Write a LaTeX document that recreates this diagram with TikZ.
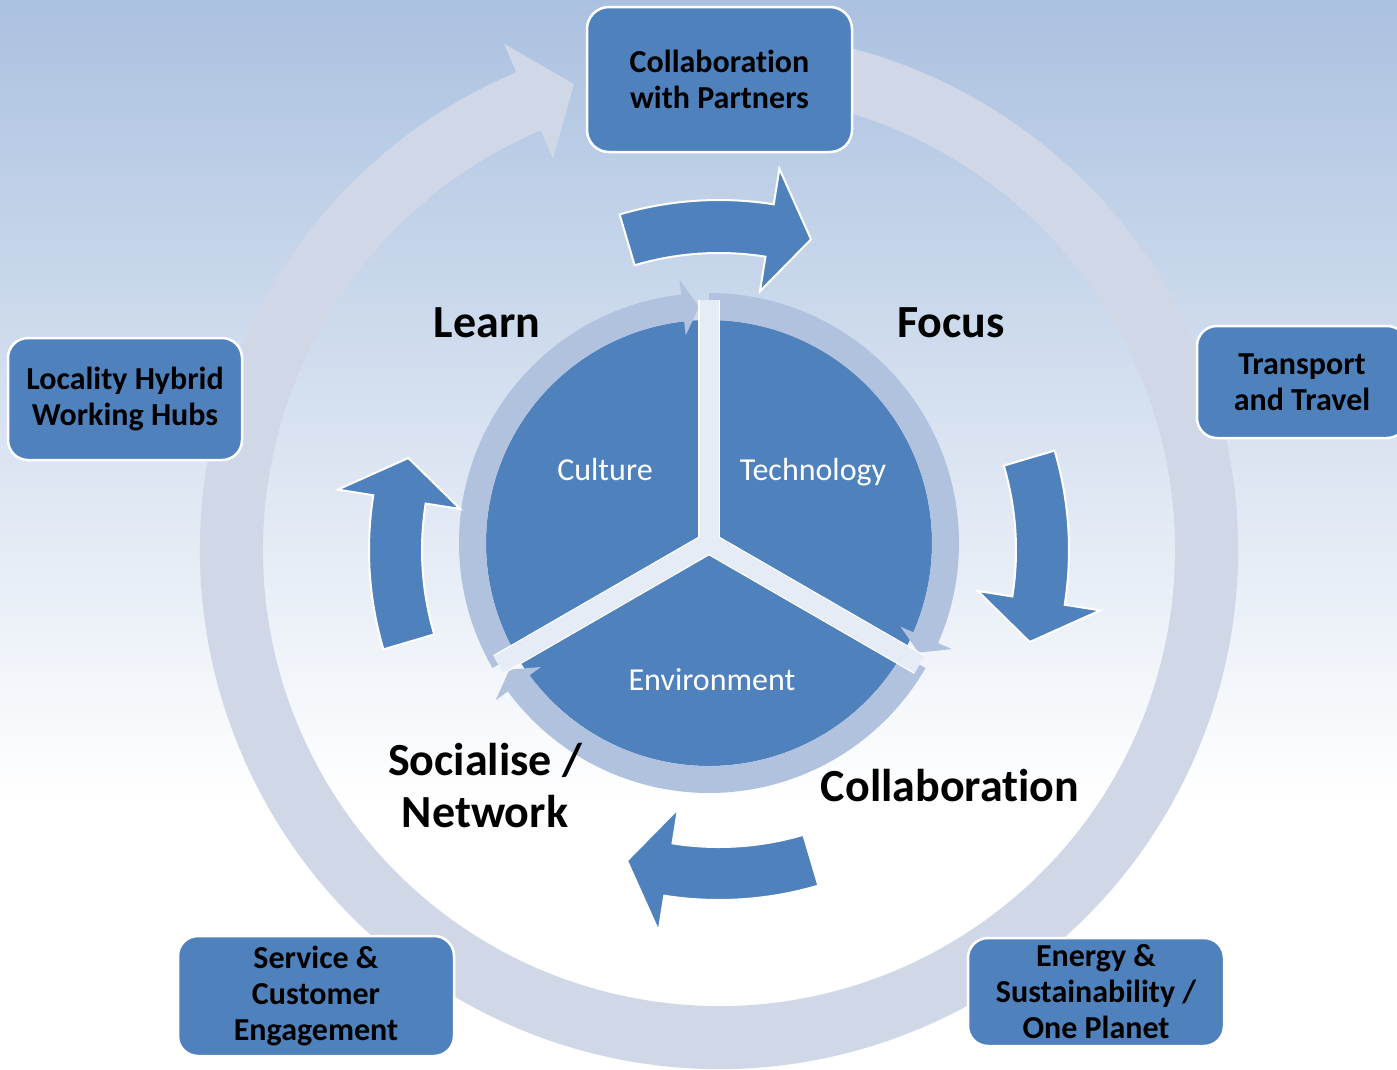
\documentclass[tikz,border=0pt]{standalone}
\usepackage{fontspec}
\setmainfont{Carlito}[Ligatures=NoCommon]
\usepackage{tikz}
\usetikzlibrary{positioning, calc}
\definecolor{cycleblue}{RGB}{79,129,189}
\definecolor{ringgrey}{RGB}{208,216,232}
\definecolor{ringblue}{RGB}{176,194,222}
\definecolor{gapblue}{RGB}{230,236,245}
\definecolor{skyblue}{RGB}{171,193,224}

% bent arrow of the middle ring, #1 = angle it sits on
\newcommand{\bendarrow}[1]{%
  \draw[bendarrow] ({#1+16.5}:297) arc[start angle={#1+16.5}, end angle={#1-9}, radius=297]
    -- ({#1-9}:262) -- ({#1-16.5}:324) -- ({#1-9}:386) -- ({#1-9}:350)
    arc[start angle={#1-9}, end angle={#1+16.5}, radius=350] -- cycle;}

% arc arrow round the pie, #1 = start angle, #2 = angle of the tip
\newcommand{\ringarrow}[2]{%
  \fill[ringblue] ({#1}:223) arc[start angle={#1}, end angle={#2+4}, radius=223]
    -- ({#2+4}:209) -- ({#2}:236.5) -- ({#2+4}:265) -- ({#2+4}:250)
    arc[start angle={#2+4}, end angle={#1}, radius=250] -- cycle;}

\begin{document}
\begin{tikzpicture}[
        x=1pt, y=-1pt,
        block/.style={rectangle, draw=white, line width=2.5pt, rounded corners=22pt, fill=cycleblue,
            text=black, font=\bfseries\fontsize{32}{36}\selectfont, align=center, inner sep=0pt},
        stage/.style={font=\bfseries\fontsize{46}{52}\selectfont, align=center, inner sep=0pt},
        sector/.style={text=white, font=\fontsize{32}{36}\selectfont, inner sep=0pt, anchor=base},
        bendarrow/.style={fill=cycleblue, draw=white, line width=2pt},
        gapline/.style={line width=19pt, draw=gapblue}
    ]
    \useasboundingbox (0,0) rectangle (1397,1069);

    % Background
    \shade[top color=skyblue, bottom color=white] (0,0) rectangle (1397,800);
    \fill[white] (0,800) rectangle (1397,1069);

    \coordinate (hub) at (719,550);
    \coordinate (core) at (709,543);

    % Outer ring
    \begin{scope}[shift={(hub)}, yscale=-1]
        \fill[ringgrey] (78:456) arc[start angle=78, end angle=-247, radius=456]
            -- (-247:425) -- (-252.7:488) -- (-247:550) -- (-247:519)
            arc[start angle=-247, end angle=78, radius=519] -- cycle;
    \end{scope}

    % Pie with its ring
    \begin{scope}[shift={(core)}, yscale=-1]
        \fill[cycleblue] (0,0) circle[radius=223];
        \ringarrow{210}{92.4}
        \ringarrow{90}{-27.6}
        \ringarrow{-30}{-147.6}
        \foreach \a in {90,210,330}
            \draw[white, line width=21.5pt] (0,0) -- (\a:243);
        \foreach \a in {90,210,330}
            \draw[gapline] (0,0) -- (\a:243);
    \end{scope}

    % Middle ring of arrows
    \begin{scope}[shift={(hub)}, yscale=-1]
        \foreach \a in {90,0,-90,180} {\bendarrow{\a}}
    \end{scope}

    % Sectors
    \node[sector] (culture) at (605,480) {Culture};
    \node[sector] (technology) at (813,480) {Technology};
    \node[sector] (environment) at (712,690) {Environment};

    % Stages
    \node[stage] (learn) at (487,323) {Learn};
    \node[stage] (focus) at (951,323) {Focus};
    \node[stage] (socialise) at (485,786) {Socialise /\\Network};
    \node[stage] (collab) at (950,786) {Collaboration};

    % Boxes on the outer ring
    \node[block, minimum width=265pt, minimum height=145pt] (partners) at (719.5,79.5) {Collaboration\\with Partners};
    \node[block, minimum width=234pt, minimum height=122pt, rounded corners=20pt] (hubs) at (125,399) {Locality Hybrid\\Working Hubs};
    \node[block, minimum width=210pt, minimum height=112pt, rounded corners=20pt] (transport) at (1302,382) {Transport\\and Travel};
    \node[block, minimum width=276pt, minimum height=120pt, rounded corners=20pt] (service) at (316,996) {Service \&\\Customer\\Engagement};
    \node[block, minimum width=256pt, minimum height=108pt, rounded corners=20pt] (energy) at (1096,992) {Energy \&\\Sustainability /\\One Planet};
\end{tikzpicture}
\end{document}
